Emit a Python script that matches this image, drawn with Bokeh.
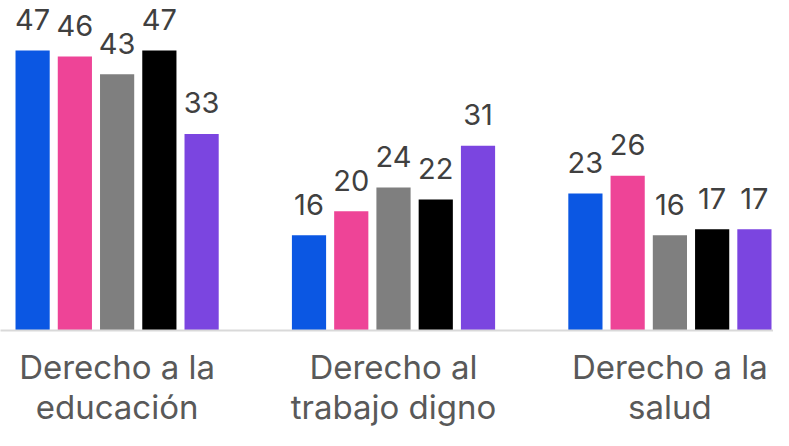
from bokeh.plotting import figure
from bokeh.models import Range1d, FixedTicker, ColumnDataSource
from bokeh.core.properties import value
from bokeh.embed import file_html
from bokeh.resources import INLINE

categories = ["Derecho a la\neducación", "Derecho al\ntrabajo digno", "Derecho a la\nsalud"]
serie_1 = [47, 16, 23]
serie_2 = [46, 20, 26]
serie_3 = [43, 24, 16]
serie_4 = [47, 22, 17]
serie_5 = [33, 31, 17]
series = [serie_1, serie_2, serie_3, serie_4, serie_5]
colors = ["#0B57E3", "#EE4497", "#7F7F7F", "#000000", "#7B45E0"]

FONT = "Inter"
step = 0.15286
bar_w = 0.1237

p = figure(width=773, height=430, output_backend="svg", toolbar_location=None,
           x_range=Range1d(-0.4219, 2.3748), y_range=Range1d(0, 55.4),
           min_border=0, min_border_bottom=100)
p.outline_line_color = None
p.xgrid.grid_line_color = None
p.ygrid.grid_line_color = None
p.yaxis.visible = False

for i, (vals, col) in enumerate(zip(series, colors)):
    xs = [g + (i - 2) * step for g in range(len(vals))]
    src = ColumnDataSource(dict(x=xs, top=vals, lab=[str(v) for v in vals]))
    p.vbar(x="x", top="top", bottom=0, width=bar_w, source=src,
           fill_color=col, line_color=None)
    p.text(x="x", y="top", text="lab", source=src, text_align="center",
           text_baseline="alphabetic", y_offset=-31, text_font=value(FONT),
           text_font_size="29px", text_color="#404040")

ax = p.xaxis[0]
ax.ticker = FixedTicker(ticks=list(range(len(categories))))
ax.major_label_overrides = {i: c for i, c in enumerate(categories)}
ax.axis_line_color = "#D9D9D9"
ax.axis_line_width = 2
ax.major_tick_line_color = None
ax.minor_tick_line_color = None
ax.major_label_text_font = FONT
ax.major_label_text_font_size = "33px"
ax.major_label_text_color = "#595959"
ax.major_label_standoff = 10
ax.major_label_text_line_height = 1.0

open("out.html", "w").write(file_html(p, INLINE))
